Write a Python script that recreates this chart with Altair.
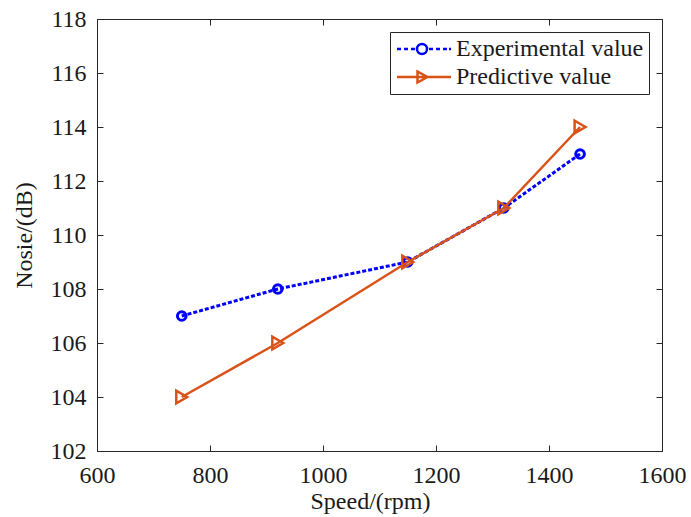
import altair as alt
import pandas as pd

# ---- data ----
speed = [750, 920, 1150, 1320, 1455]
experimental = [107, 108, 109, 111, 113]
predictive = [104, 106, 109, 111, 114]
series_names = ["Experimental value", "Predictive value"]
x_ticks = [600, 800, 1000, 1200, 1400, 1600]
y_ticks = [102, 104, 106, 108, 110, 112, 114, 116, 118]

df = pd.DataFrame({"speed": speed, "exp": experimental, "pred": predictive})
legend_df = pd.DataFrame({"series": series_names})

FONT = "Liberation Serif"
AX = "#262626"
TXT = "#1a1a1a"
BLUE = "#0000FF"
ORANGE = "#D95319"

xs = alt.Scale(domain=[600, 1600], nice=False, zero=False)
ys = alt.Scale(domain=[102, 118], nice=False, zero=False)

common_axis = dict(domain=False, grid=False, tickSize=6, tickColor=AX, tickWidth=1,
                   offset=-6, labelFlush=False, labelOverlap=False, format="d")

x_bottom = alt.Axis(orient="bottom", values=x_ticks, labelPadding=12, labelFont=FONT,
                    labelFontSize=24, labelColor=TXT, title="Speed/(rpm)", titleFont=FONT,
                    titleFontSize=24, titleFontWeight="normal", titleColor=TXT,
                    titlePadding=2, titleX=273, **common_axis)
y_left = alt.Axis(orient="left", values=y_ticks, labelPadding=11, labelFont=FONT,
                  labelFontSize=24, labelColor=TXT, title="Nosie/(dB)", titleFont=FONT,
                  titleFontSize=24, titleFontWeight="normal", titleColor=TXT,
                  titlePadding=14, **common_axis)
x_top = alt.Axis(orient="top", values=x_ticks, labels=False, title=None, **common_axis)
y_right = alt.Axis(orient="right", values=y_ticks, labels=False, title=None, **common_axis)

base = alt.Chart(df)

exp_line = base.mark_line(color=BLUE, strokeWidth=3, strokeDash=[4, 2]).encode(
    x=alt.X("speed:Q", scale=xs, axis=x_bottom),
    y=alt.Y("exp:Q", scale=ys, axis=y_left),
)
exp_pts = base.mark_point(shape="circle", filled=False, color=BLUE, size=75,
                          strokeWidth=3, opacity=1).encode(
    x=alt.X("speed:Q", scale=xs, axis=None),
    y=alt.Y("exp:Q", scale=ys, axis=None),
)
pred_line = base.mark_line(color=ORANGE, strokeWidth=2.5).encode(
    x=alt.X("speed:Q", scale=xs, axis=None),
    y=alt.Y("pred:Q", scale=ys, axis=None),
)
pred_pts = base.mark_point(shape="triangle-right", filled=False, color=ORANGE, size=160,
                           strokeWidth=2.5, opacity=1).encode(
    x=alt.X("speed:Q", scale=xs, axis=x_top),
    y=alt.Y("pred:Q", scale=ys, axis=y_right),
)

# legend symbols: line + marker drawn as custom symbol paths
blue_sym = ("M-1,0H-0.6M-0.3,0H0.1M0.4,0H0.8"
            "M1,0A0.5,0.5 0 1,1 2,0A0.5,0.5 0 1,1 1,0"
            "M2.2,0H2.6M2.9,0H3.3M3.6,0H4.0M4.2,0H4.4")
orange_sym = "M-1,0H4.4M1.05,-0.55L2.05,0L1.05,0.55Z"

leg = alt.Legend(title=None, orient="top-right", offset=13, strokeColor=AX,
                 fillColor="white", padding=5, labelFont=FONT, labelFontSize=24,
                 labelColor=TXT, labelLimit=0, symbolSize=400, symbolStrokeWidth=2.5,
                 symbolFillColor="transparent", labelOffset=37, rowPadding=4)

legend_layer = alt.Chart(legend_df).transform_filter("false").mark_point(
    filled=False, opacity=1).encode(
    color=alt.Color("series:N", scale=alt.Scale(domain=series_names, range=[BLUE, ORANGE]),
                    legend=leg),
    shape=alt.Shape("series:N", scale=alt.Scale(domain=series_names,
                                                range=[blue_sym, orange_sym]),
                    legend=leg),
)

chart = alt.layer(exp_line, exp_pts, pred_line, pred_pts, legend_layer).resolve_axis(
    x="independent", y="independent"
).properties(
    width=565, height=432,
    autosize=alt.AutoSizeParams(type="none"),
    padding={"left": 97, "top": 19, "right": 29, "bottom": 66},
    background="white",
).configure_view(stroke=AX, strokeWidth=1)

chart.save("out.html", embed_options={"renderer": "svg", "actions": False})
